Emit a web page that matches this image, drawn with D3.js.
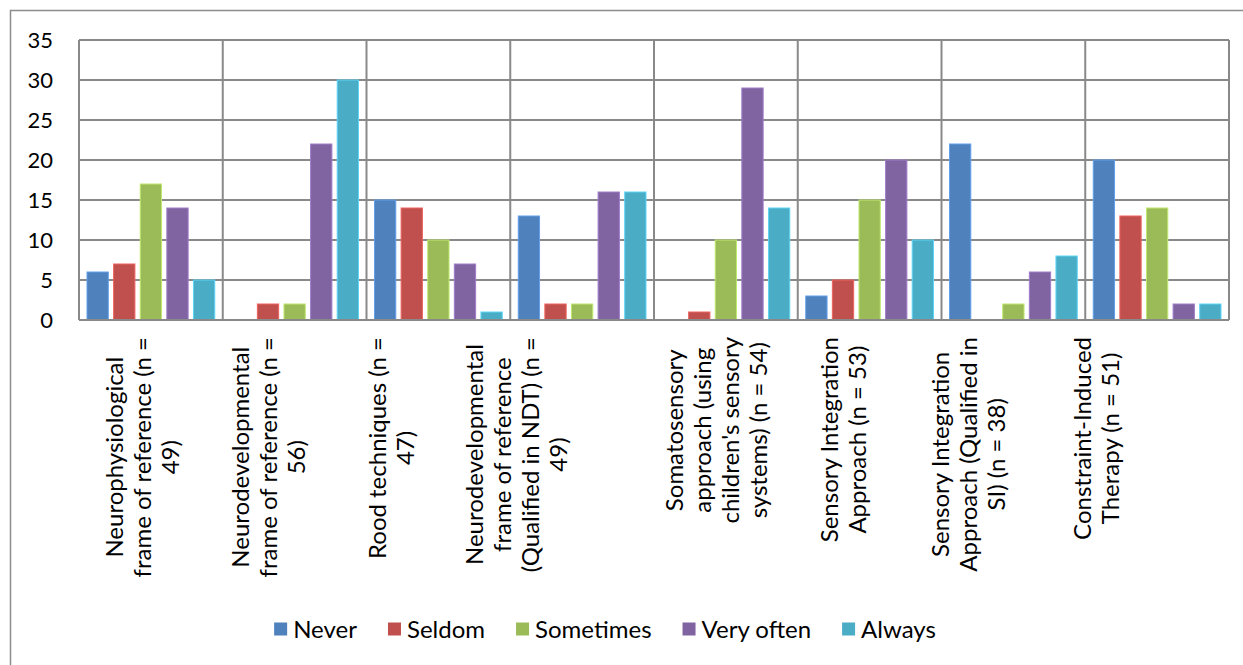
<!DOCTYPE html>
<html>
<head>
<meta charset="utf-8">
<script src="https://cdn.jsdelivr.net/npm/d3@7"></script>
<style>
  html, body { margin: 0; padding: 0; background: #fff; }
  svg { display: block; }
  text { font-family: Lato, "Open Sans", sans-serif; fill: #000; }
</style>
</head>
<body>
<svg id="chart" width="1243" height="665"></svg>
<script>
// Approaches, each label split into its printed lines
const categories = [
  ["Neurophysiological", "frame of reference (n =", "49)"],
  ["Neurodevelopmental", "frame of reference (n =", "56)"],
  ["Rood techniques (n =", "47)"],
  ["Neurodevelopmental", "frame of reference", "(Qualified in NDT) (n =", "49)"],
  ["Somatosensory", "approach (using", "children's sensory", "systems) (n = 54)"],
  ["Sensory Integration", "Approach (n = 53)"],
  ["Sensory Integration", "Approach (Qualified in", "SI) (n = 38)"],
  ["Constraint-Induced", "Therapy (n = 51)"]
];

const seriesNames = ["Never", "Seldom", "Sometimes", "Very often", "Always"];

// counts per approach, one array per frequency
const never     = [6, 0, 15, 13, 0, 3, 22, 20];
const seldom    = [7, 2, 14, 2, 1, 5, 0, 13];
const sometimes = [17, 2, 10, 2, 10, 15, 2, 14];
const veryOften = [14, 22, 7, 16, 29, 20, 6, 2];
const always    = [5, 30, 1, 16, 14, 10, 8, 2];

const yTicks = [0, 5, 10, 15, 20, 25, 30, 35];

const seriesValues = [never, seldom, sometimes, veryOften, always];
const colors = ["#4F81BD", "#C0504D", "#9BBB59", "#8064A2", "#4BACC6"];

// ---- layout ----
const plot = { left: 79, right: 1229, top: 40, bottom: 320 };
const gridColor = "#898989";
const fontSize = 24;
const tickFontSize = 22;
const lineStep = 28;
// horizontal shift of each wrapped category label relative to its tick
const labelShift = [0, -18, -38, -57, -1, -18, -36, -52];

const svg = d3.select("#chart");

svg.append("rect").attr("width", 1243).attr("height", 665).attr("fill", "#fff");

// outer chart frame
svg.append("path")
  .attr("d", "M10.5,700 V10.5 H1300")
  .attr("fill", "none")
  .attr("stroke", "#8c8c8c")
  .attr("stroke-width", 1.5);

const catIdx = d3.range(categories.length);
const x0 = d3.scaleBand().domain(catIdx).range([plot.left, plot.right]).padding(0);
const x1 = d3.scaleBand().domain(d3.range(seriesNames.length))
  .range([8, x0.bandwidth() - 8]).paddingInner(0.2).paddingOuter(0);
const y = d3.scaleLinear().domain([0, 35]).range([plot.bottom, plot.top]);

// horizontal gridlines
svg.append("g").selectAll("line").data(yTicks).join("line")
  .attr("x1", plot.left).attr("x2", plot.right)
  .attr("y1", d => y(d)).attr("y2", d => y(d))
  .attr("stroke", gridColor).attr("stroke-width", 2);

// vertical category dividers
const dividers = catIdx.map(i => x0(i)).concat([plot.right]);
svg.append("g").selectAll("line").data(dividers).join("line")
  .attr("x1", d => d).attr("x2", d => d)
  .attr("y1", plot.top).attr("y2", plot.bottom)
  .attr("stroke", gridColor).attr("stroke-width", 2);

// bars
const groups = svg.append("g").selectAll("g").data(catIdx).join("g")
  .attr("transform", i => `translate(${x0(i)},0)`);

groups.selectAll("rect")
  .data(i => seriesValues.map((vals, s) => ({ s, v: vals[i] })).filter(d => d.v > 0))
  .join("rect")
  .attr("x", d => x1(d.s))
  .attr("width", x1.bandwidth())
  .attr("y", d => y(d.v))
  .attr("height", d => y(0) - y(d.v))
  .attr("fill", d => colors[d.s])
  .attr("stroke", d => d3.color(colors[d.s]).brighter(0.6))
  .attr("stroke-width", 1);

// axis line on top of bars
svg.append("line")
  .attr("x1", plot.left).attr("x2", plot.right)
  .attr("y1", y(0)).attr("y2", y(0))
  .attr("stroke", gridColor).attr("stroke-width", 2);

// y tick labels
svg.append("g").selectAll("text").data(yTicks).join("text")
  .attr("x", 53).attr("y", d => y(d))
  .attr("dy", "0.36em")
  .attr("text-anchor", "end")
  .attr("font-size", tickFontSize)
  .text(d => d);

// rotated category labels, centred lines, longest line ending just below axis
const labelTop = 337;
const labelG = svg.append("g");
categories.forEach((lines, i) => {
  const cx = x0(i) + x0.bandwidth() / 2 + labelShift[i];
  const n = lines.length;
  const texts = lines.map((line, j) => labelG.append("text")
    .attr("font-size", fontSize)
    .attr("text-anchor", "middle")
    .text(line));
  const maxLen = d3.max(texts, t => t.node().getComputedTextLength());
  const cy = labelTop + maxLen / 2;
  texts.forEach((t, j) => {
    const bx = cx + (j - (n - 1) / 2) * lineStep;
    t.attr("transform", `translate(${bx},${cy}) rotate(-90)`);
  });
});

// legend
const legend = svg.append("g");
const legendCenter = 605, legendY = 629, sw = 13, swGap = 6, itemGap = 31;
const items = seriesNames.map((name, s) => {
  const g = legend.append("g");
  g.append("rect").attr("width", sw).attr("height", sw).attr("y", -sw / 2).attr("fill", colors[s]);
  const t = g.append("text").attr("x", sw + swGap).attr("dy", "0.36em")
    .attr("font-size", fontSize).text(name);
  return { g, w: sw + swGap + t.node().getComputedTextLength() };
});
const total = d3.sum(items, d => d.w) + itemGap * (items.length - 1);
let lx = legendCenter - total / 2;
items.forEach(it => {
  it.g.attr("transform", `translate(${lx},${legendY})`);
  lx += it.w + itemGap;
});
</script>
</body>
</html>
